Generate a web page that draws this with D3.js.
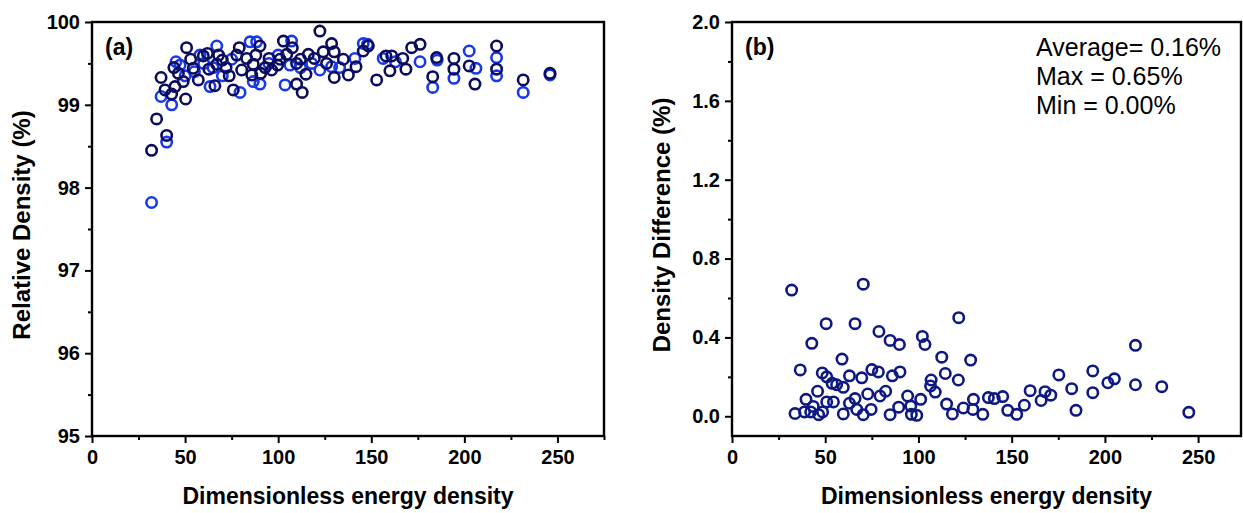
<!DOCTYPE html>
<html>
<head>
<meta charset="utf-8">
<script src="https://cdn.jsdelivr.net/npm/d3@7"></script>
<style>
  html, body { margin: 0; padding: 0; background: #fff; }
  svg { display: block; font-family: "Liberation Sans", Arial, sans-serif; }
</style>
</head>
<body>
<svg id="chart" width="1243" height="513"></svg>
<script>
// Panel (a): relative density vs dimensionless energy density, two sample sets
const seriesDarkX = [32.0, 34.7, 40.1, 37.1, 42.8, 39.2, 44.6, 46.4, 49.0, 50.3, 50.8, 54.4, 57.1, 59.8, 62.8, 66.0, 67.0, 70.0, 73.7, 75.9, 77.7, 79.1, 80.4, 83.1, 85.8, 86.6, 90.2, 90.6, 95.1, 96.5, 99.7, 102.8, 104.6, 107.6, 109.9, 109.9, 112.9, 114.9, 116.2, 119.4, 122.4, 124.2, 128.7, 130.1, 130.1, 135.0, 137.7, 141.8, 145.7, 148.4, 152.9, 157.9, 161.0, 160.0, 166.9, 168.6, 171.7, 176.2, 183.0, 185.1, 194.4, 194.4, 202.6, 205.7, 217.3, 217.3, 231.6, 246.0, 44.0, 53.0, 62.0, 68.0, 72.0, 88.0, 93.0, 101.0, 112.0, 126.0];
const seriesDarkY = [98.45, 98.83, 98.63, 99.33, 99.13, 99.18, 99.22, 99.38, 99.28, 99.07, 99.69, 99.44, 99.30, 99.59, 99.43, 99.23, 99.49, 99.54, 99.35, 99.18, 99.60, 99.69, 99.42, 99.56, 99.36, 99.49, 99.71, 99.38, 99.56, 99.42, 99.48, 99.77, 99.61, 99.69, 99.25, 99.50, 99.15, 99.37, 99.61, 99.56, 99.89, 99.64, 99.74, 99.64, 99.33, 99.55, 99.36, 99.46, 99.65, 99.71, 99.30, 99.59, 99.59, 99.41, 99.56, 99.43, 99.69, 99.73, 99.34, 99.57, 99.56, 99.43, 99.47, 99.25, 99.71, 99.43, 99.30, 99.38, 99.45, 99.55, 99.62, 99.60, 99.45, 99.60, 99.45, 99.55, 99.55, 99.50];

const seriesBlueX = [32.0, 40.1, 37.1, 42.8, 45.1, 47.3, 58.0, 63.4, 67.0, 79.5, 84.9, 88.4, 86.6, 90.2, 103.7, 106.3, 107.2, 122.4, 128.7, 141.2, 145.7, 156.4, 176.2, 183.0, 185.4, 194.4, 202.6, 206.2, 217.3, 217.3, 231.6, 246.0, 50.0, 55.0, 60.0, 65.0, 70.0, 75.0, 95.0, 100.0, 112.0, 118.0, 133.0, 148.0, 163.0];
const seriesBlueY = [97.82, 98.55, 99.10, 99.00, 99.52, 99.48, 99.60, 99.22, 99.71, 99.15, 99.76, 99.76, 99.28, 99.25, 99.24, 99.48, 99.77, 99.42, 99.46, 99.56, 99.74, 99.56, 99.52, 99.21, 99.54, 99.32, 99.65, 99.44, 99.57, 99.35, 99.15, 99.36, 99.35, 99.40, 99.50, 99.45, 99.35, 99.55, 99.50, 99.60, 99.45, 99.50, 99.45, 99.73, 99.52];

// Panel (b): density difference between the two sets
const diffX = [32, 70.4, 121.6, 50.5, 66, 42.8, 78.8, 84.8, 89.8, 102.1, 103.5, 112.5, 128, 59, 36.6, 48.4, 50.8, 53.7, 56.1, 59.7, 63, 69.6, 75, 78.5, 86, 90.1, 106.8, 106.5, 109, 114.4, 121.4, 45.9, 39.7, 50.8, 54.4, 43.6, 33.8, 38.9, 42.2, 46.5, 48.6, 59.7, 63, 66, 66.9, 70.4, 72.8, 74.6, 79.4, 82.4, 84.8, 89.4, 94.2, 95.9, 96.2, 99.1, 101.2, 115.1, 118.2, 124.1, 129.5, 129.2, 134.5, 137.5, 140.7, 145.2, 147.9, 152.7, 156.8, 159.9, 165.8, 167.9, 171, 175.3, 182.2, 184.5, 193.5, 193.5, 201.6, 205.1, 216.4, 216.4, 230.5, 245];
const diffY = [0.64, 0.67, 0.50, 0.47, 0.47, 0.37, 0.43, 0.385, 0.364, 0.405, 0.364, 0.30, 0.285, 0.29, 0.235, 0.22, 0.20, 0.167, 0.16, 0.147, 0.205, 0.195, 0.237, 0.225, 0.205, 0.225, 0.184, 0.154, 0.123, 0.217, 0.184, 0.127, 0.086, 0.073, 0.073, 0.05, 0.014, 0.022, 0.022, 0.008, 0.022, 0.012, 0.066, 0.09, 0.035, 0.008, 0.113, 0.035, 0.103, 0.127, 0.008, 0.046, 0.103, 0.052, 0.01, 0.005, 0.086, 0.062, 0.012, 0.042, 0.086, 0.035, 0.01, 0.095, 0.09, 0.10, 0.03, 0.01, 0.056, 0.13, 0.08, 0.125, 0.107, 0.21, 0.14, 0.03, 0.23, 0.12, 0.17, 0.19, 0.36, 0.16, 0.15, 0.02];

const xTicks = [0, 50, 100, 150, 200, 250];
const xMinor = [25, 75, 125, 175, 225, 275];
const yTicksA = [95, 96, 97, 98, 99, 100];
const yMinorA = [95.5, 96.5, 97.5, 98.5, 99.5];
const yTicksB = [0.0, 0.4, 0.8, 1.2, 1.6, 2.0];
const yMinorB = [0.2, 0.6, 1.0, 1.4, 1.8];
const statLines = ["Average= 0.16%", "Max = 0.65%", "Min = 0.00%"];

const svg = d3.select("#chart");

function drawPanel(opt) {
  const g = svg.append("g");
  const x = d3.scaleLinear().domain(opt.xDomain).range([opt.left, opt.right]);
  const y = d3.scaleLinear().domain(opt.yDomain).range([opt.bottom, opt.top]);

  // minor ticks
  g.append("g").attr("transform", `translate(0,${opt.bottom})`)
    .call(d3.axisBottom(x).tickValues(xMinor.filter(v => v <= opt.xDomain[1])).tickSize(4).tickFormat(""))
    .call(s => s.select(".domain").remove());
  g.append("g").attr("transform", `translate(${opt.left},0)`)
    .call(d3.axisLeft(y).tickValues(opt.yMinor).tickSize(4).tickFormat(""))
    .call(s => s.select(".domain").remove());

  // major axes
  const xa = g.append("g").attr("transform", `translate(0,${opt.bottom})`)
    .call(d3.axisBottom(x).tickValues(xTicks).tickSize(7).tickSizeOuter(0).tickPadding(7).tickFormat(d3.format("d")));
  const ya = g.append("g").attr("transform", `translate(${opt.left},0)`)
    .call(d3.axisLeft(y).tickValues(opt.yTicks).tickSize(7).tickSizeOuter(0).tickPadding(5).tickFormat(opt.yFormat));
  [xa, ya].forEach(a => {
    a.select(".domain").remove();
    a.selectAll("text").attr("fill", "#000").attr("font-size", 20).attr("font-weight", "bold")
      .attr("font-family", "Liberation Sans, Arial, sans-serif");
  });
  g.selectAll("g.tick line").attr("stroke", "#000").attr("stroke-width", 2);

  // frame
  g.append("rect")
    .attr("x", opt.left).attr("y", opt.top)
    .attr("width", opt.right - opt.left).attr("height", opt.bottom - opt.top)
    .attr("fill", "none").attr("stroke", "#000").attr("stroke-width", 2.4);

  // series
  opt.series.forEach(s => {
    g.append("g").selectAll("circle")
      .data(s.xs.map((v, i) => [v, s.ys[i]]))
      .join("circle")
      .attr("cx", d => x(d[0])).attr("cy", d => y(d[1]))
      .attr("r", 5.2)
      .attr("fill", "none").attr("stroke", s.color).attr("stroke-width", 2.6);
  });

  // axis titles
  g.append("text")
    .attr("x", (opt.left + opt.right) / 2).attr("y", 504)
    .attr("text-anchor", "middle").attr("font-size", 23).attr("font-weight", "bold")
    .text("Dimensionless energy density");
  g.append("text")
    .attr("transform", `translate(${opt.left - 62},${(opt.top + opt.bottom) / 2 - 4}) rotate(-90)`)
    .attr("text-anchor", "middle").attr("font-size", 24).attr("font-weight", "bold")
    .text(opt.yTitle);

  // panel tag
  g.append("text")
    .attr("x", opt.left + 13).attr("y", 55)
    .attr("font-size", 23).attr("font-weight", "bold")
    .text(opt.tag);
  return {g, x, y};
}

drawPanel({
  left: 92, right: 604, top: 22, bottom: 436,
  xDomain: [0, 275], yDomain: [95, 100],
  yTicks: yTicksA, yMinor: yMinorA, yFormat: d3.format("d"),
  yTitle: "Relative Density (%)", tag: "(a)",
  series: [
    {xs: seriesBlueX, ys: seriesBlueY, color: "#1838ec"},
    {xs: seriesDarkX, ys: seriesDarkY, color: "#0b0c5c"}
  ]
});

const pb = drawPanel({
  left: 732, right: 1241, top: 22, bottom: 436,
  xDomain: [0, 273], yDomain: [-0.1, 2.0],
  yTicks: yTicksB, yMinor: yMinorB, yFormat: d3.format(".1f"),
  yTitle: "Density Difference (%)", tag: "(b)",
  series: [{xs: diffX, ys: diffY, color: "#0e1882"}]
});

// summary statistics
pb.g.append("g").selectAll("text")
  .data(statLines)
  .join("text")
  .attr("x", 1036).attr("y", (d, i) => 56 + i * 29)
  .attr("font-size", 25)
  .text(d => d);
</script>
</body>
</html>
